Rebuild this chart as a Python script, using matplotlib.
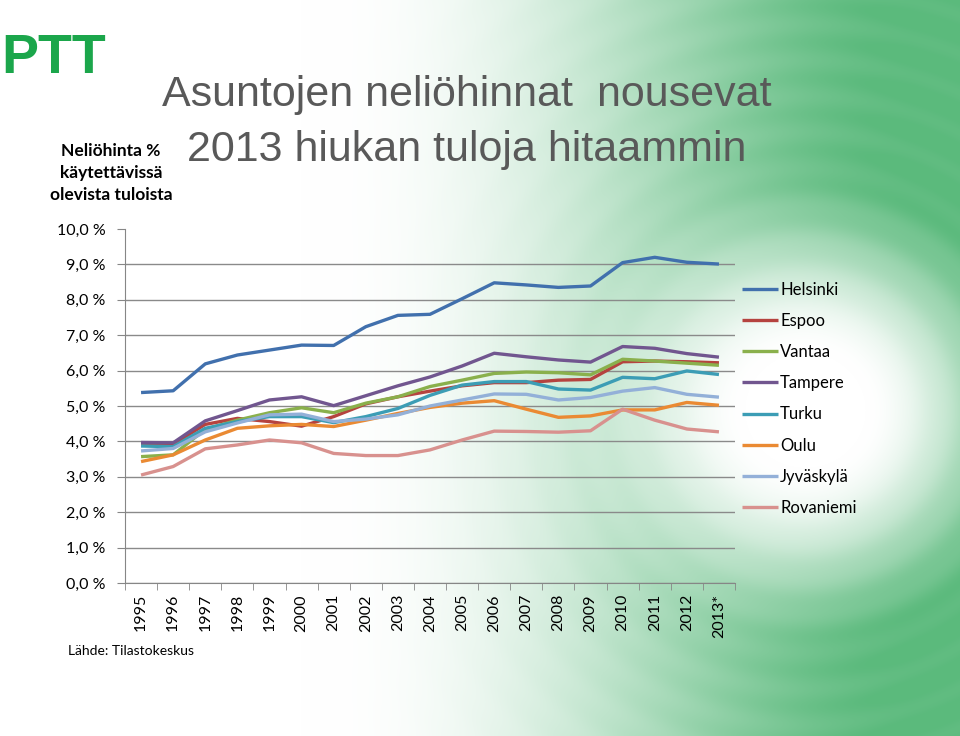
import numpy as np
import matplotlib
matplotlib.use("Agg")
import matplotlib.pyplot as plt

# data (neliöhinta % käytettävissä olevista tuloista)
years = ["1995", "1996", "1997", "1998", "1999", "2000", "2001", "2002", "2003", "2004",
         "2005", "2006", "2007", "2008", "2009", "2010", "2011", "2012", "2013*"]

helsinki = [5.38, 5.43, 6.19, 6.44, 6.58, 6.72, 6.71, 7.24, 7.56, 7.59,
            8.03, 8.48, 8.42, 8.35, 8.39, 9.05, 9.20, 9.06, 9.01]
espoo = [3.93, 3.92, 4.48, 4.65, 4.56, 4.43, 4.70, 5.06, 5.26, 5.42,
         5.57, 5.66, 5.66, 5.73, 5.75, 6.25, 6.27, 6.25, 6.22]
vantaa = [3.57, 3.62, 4.34, 4.60, 4.81, 4.95, 4.81, 5.08, 5.26, 5.55,
          5.73, 5.92, 5.96, 5.94, 5.88, 6.32, 6.27, 6.21, 6.15]
tampere = [3.97, 3.96, 4.58, 4.87, 5.17, 5.26, 5.01, 5.29, 5.57, 5.82,
           6.13, 6.49, 6.39, 6.30, 6.24, 6.68, 6.63, 6.48, 6.38]
turku = [3.87, 3.85, 4.37, 4.56, 4.70, 4.70, 4.53, 4.70, 4.93, 5.30,
         5.59, 5.69, 5.69, 5.48, 5.45, 5.81, 5.77, 5.99, 5.89]
oulu = [3.43, 3.62, 4.04, 4.37, 4.44, 4.48, 4.42, 4.60, 4.79, 4.96,
        5.08, 5.15, 4.91, 4.68, 4.72, 4.89, 4.89, 5.10, 5.02]
jyvaskyla = [3.73, 3.80, 4.27, 4.52, 4.75, 4.77, 4.56, 4.63, 4.75, 5.00,
             5.17, 5.34, 5.33, 5.17, 5.24, 5.42, 5.52, 5.33, 5.25]
rovaniemi = [3.05, 3.29, 3.79, 3.90, 4.04, 3.96, 3.66, 3.60, 3.60, 3.76,
             4.04, 4.29, 4.28, 4.26, 4.30, 4.91, 4.60, 4.35, 4.27]

names = ["Helsinki", "Espoo", "Vantaa", "Tampere", "Turku", "Oulu", "Jyväskylä", "Rovaniemi"]
series = [helsinki, espoo, vantaa, tampere, turku, oulu, jyvaskyla, rovaniemi]
colors = ["#4170AD", "#B5433F", "#8AB04C", "#71568F", "#3C9DB5", "#EA8A33", "#93B0D8", "#D8918E"]

W, H = 960, 736
fig = plt.figure(figsize=(W / 100, H / 100), dpi=100)

# background: white to green swirl on the right
bg = fig.add_axes([0, 0, 1, 1], zorder=-10)
X, Y = np.meshgrid(np.arange(W), np.arange(H))
def smooth(t):
    t = np.clip(t, 0, 1)
    return t * t * (3 - 2 * t)
r = np.sqrt((X - 805) ** 2 + ((Y - 410) * 1.05) ** 2)
a_x = smooth((X - 300) / 620.0) ** 1.3
a_r = smooth((r - 60) / 200.0)
alpha = a_x * a_r
alpha = alpha * (1 + 0.03 * np.sin(r / 6.0))
alpha = np.clip(alpha, 0, 1)
green = np.array([0.36, 0.73, 0.49])
img = 1 - alpha[..., None] * (1 - green[None, None, :])
bg.imshow(img, aspect="auto", extent=[0, W, H, 0])
bg.set_xlim(0, W)
bg.set_ylim(H, 0)
bg.axis("off")

tick_font = ["Lato", "DejaVu Sans"]

# main chart
left, right, top, bottom = 125, 735, 229, 583
ax = fig.add_axes([left / W, 1 - bottom / H, (right - left) / W, (bottom - top) / H])
ax.set_facecolor("none")
x = np.arange(len(years))
for name, vals, c in zip(names, series, colors):
    ax.plot(x, vals, color=c, lw=2.4, label=name, solid_capstyle="butt")

ax.set_xlim(-0.5, len(years) - 0.5)
ax.set_ylim(0, 10)
ax.set_yticks(np.arange(0, 11, 1))
ax.set_yticklabels([f"{v:.1f} %".replace(".", ",") for v in np.arange(0, 11, 1)],
                   fontsize=11.5, family=tick_font)
ax.set_xticks(x)
ax.set_xticklabels(years, rotation=90, fontsize=11.5, family=tick_font)
ax.set_xticks(np.arange(-0.5, len(years), 1), minor=True)
ax.tick_params(axis="x", which="major", length=0, pad=8)
ax.tick_params(axis="x", which="minor", length=5, color="#868686")
ax.tick_params(axis="y", length=6, color="#868686", pad=8)
for s in ["top", "right"]:
    ax.spines[s].set_visible(False)
for s in ["left", "bottom"]:
    ax.spines[s].set_color("#868686")
ax.yaxis.grid(True, color="#8a8a8a", lw=1)
ax.get_ygridlines()[-1].set_visible(False)
ax.set_axisbelow(True)

leg = ax.legend(loc="upper left", bbox_to_anchor=(1.0, 0.87), frameon=False,
                prop={"family": tick_font, "size": 12}, handlelength=2.2,
                handletextpad=0.1, labelspacing=0.91, borderaxespad=0)

# titles and texts
title_font = ["Liberation Sans", "DejaVu Sans"]
fig.text(467 / W, 1 - 95 / H, "Asuntojen neliöhinnat  nousevat", ha="center", va="center",
         fontsize=31, color="#595959", family=title_font)
fig.text(467 / W, 1 - 150 / H, "2013 hiukan tuloja hitaammin", ha="center", va="center",
         fontsize=31, color="#595959", family=title_font)
fig.text(111 / W, 1 - 173 / H, "Neliöhinta %\nkäytettävissä\nolevista tuloista", ha="center",
         va="center", fontsize=12.5, fontweight="bold", family=tick_font, linespacing=1.45)
fig.text(68 / W, 1 - 651 / H, "Lähde: Tilastokeskus", ha="left", va="center",
         fontsize=10, family=tick_font)

# logo
fig.text(1 / W, 1 - 73 / H, "PTT", ha="left", va="baseline", fontsize=40,
         fontweight="bold", color="#1BA64B", family=title_font)

fig.savefig("out.png", dpi=100)
